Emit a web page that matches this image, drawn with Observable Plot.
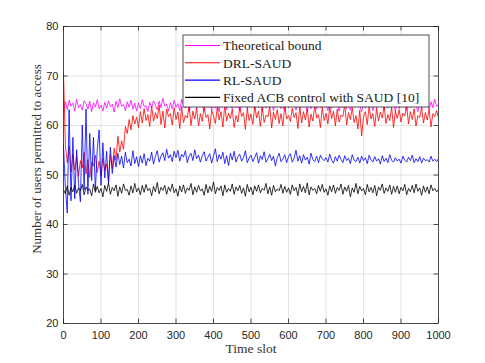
<!DOCTYPE html>
<html><head><meta charset="utf-8">
<script src="https://cdn.jsdelivr.net/npm/d3@7"></script>
<script src="https://cdn.jsdelivr.net/npm/@observablehq/plot@0.6"></script>
<style>
html,body{margin:0;padding:0;background:#fff;}
#chart{width:485px;height:363px;}
</style></head><body><div id="chart"></div>
<script>
const seriesNames = ["Theoretical bound", "DRL-SAUD", "RL-SAUD", "Fixed ACB control with SAUD [10]"];
const seriesColors = ["#ff00ff", "#ff0000", "#0000ff", "#000000"];
const xTicks = [0, 100, 200, 300, 400, 500, 600, 700, 800, 900, 1000];
const yTicks = [20, 30, 40, 50, 60, 70, 80];
const xLabel = "Time slot";
const yLabel = "Number of users permitted to access";

// sampled every 5 time slots (0..1000)
const timeSlots = d3.range(0, 1001, 5);

const theoretical = [
62.6,64.8,63.2,65.1,63.9,64.5,62.9,65.3,63.6,64.2,63.1,65.0,64.4,63.3,64.9,62.8,64.6,63.7,65.2,63.4,
64.1,62.9,64.7,63.5,65.0,63.8,64.3,62.7,64.9,63.6,65.4,63.9,64.2,63.0,64.8,63.7,65.1,63.3,64.5,62.9,
64.6,63.4,65.2,63.8,64.0,62.8,64.7,63.5,65.0,64.1,63.2,64.9,63.6,65.5,63.9,64.3,62.9,64.6,63.4,65.1,
63.7,64.4,63.0,65.3,64.2,63.5,64.8,62.8,64.5,63.9,65.0,63.3,64.6,63.8,64.1,62.9,65.2,63.6,64.4,63.1,
64.9,63.5,64.2,62.8,65.0,63.7,64.6,63.2,64.8,64.0,63.4,65.1,63.6,64.3,62.9,64.7,63.8,65.2,63.3,64.5,
63.9,64.7,63.1,65.0,63.6,64.2,62.8,64.9,63.5,65.3,63.8,64.4,63.0,64.6,63.7,65.1,63.4,64.0,62.9,64.8,
63.6,65.0,63.9,64.3,63.1,64.7,63.5,65.2,63.8,64.1,62.8,64.6,63.4,65.0,64.2,63.3,64.8,63.6,65.4,63.9,
64.2,63.0,64.7,63.5,65.1,63.8,64.4,62.9,64.9,63.6,65.0,63.4,64.5,63.1,64.8,63.7,65.2,63.9,64.1,62.8,
64.6,63.5,65.1,63.7,64.3,63.0,64.9,63.6,65.3,63.9,64.2,63.2,64.7,63.5,65.0,63.8,64.4,62.9,64.8,63.4,
65.1,63.7,64.3,63.0,64.9,63.6,65.2,63.9,64.1,62.8,64.7,63.5,65.0,63.8,64.5,63.2,64.8,63.6,65.3,63.9,
64.2];

const drlSaud = [
70.5,56.0,52.5,55.8,50.6,54.2,51.0,53.8,49.7,52.9,51.4,54.6,50.2,53.1,49.5,52.6,51.8,54.0,50.5,52.8,
49.8,53.5,50.9,52.2,48.8,54.1,51.3,55.4,53.0,57.8,54.6,56.9,55.2,59.8,58.4,61.2,59.1,62.0,60.3,61.7,
59.6,62.8,60.5,63.4,61.0,62.2,59.8,63.9,60.9,62.6,61.4,64.1,60.2,62.9,59.5,63.3,61.8,62.4,60.1,63.6,
61.2,62.7,59.4,63.8,60.6,62.1,61.5,64.0,60.0,62.9,61.3,63.5,59.9,62.4,60.8,63.9,61.6,62.2,59.3,63.1,
61.9,60.4,63.7,61.1,62.8,59.7,64.2,60.9,62.5,61.4,63.3,59.6,62.0,60.7,63.8,61.8,62.6,59.2,63.4,61.0,
62.3,60.2,64.0,61.5,62.9,59.8,63.6,60.6,62.1,61.7,63.9,59.5,62.7,61.2,63.2,60.4,62.4,59.9,64.1,61.3,
62.0,60.8,63.5,61.6,62.6,59.4,63.9,60.5,62.8,61.1,63.4,59.7,62.3,60.9,64.0,61.5,62.2,59.6,63.7,61.0,
62.5,60.3,63.8,61.4,62.9,59.9,63.3,60.7,62.1,61.8,64.2,60.1,62.6,61.2,63.6,60.6,62.0,59.3,63.1,57.9,
61.7,62.8,60.2,63.9,61.3,62.4,59.8,63.5,60.9,62.7,61.5,64.0,60.4,62.2,61.0,63.7,59.6,62.9,61.4,63.2,
60.7,62.5,61.9,64.1,60.3,62.8,61.2,63.4,59.9,62.0,61.6,63.8,60.5,62.6,61.1,63.3,59.7,62.4,61.8,63.0,
61.5];

const rlSaud = [
56.0,47.5,42.3,63.2,44.8,57.6,45.2,55.1,48.3,44.6,60.1,47.0,63.3,46.1,58.4,48.9,57.6,46.8,55.2,59.1,
47.9,56.5,49.4,54.8,48.2,55.6,50.3,53.9,51.6,54.4,52.1,53.8,51.4,54.6,52.5,53.2,51.8,54.9,52.3,53.7,
51.7,53.9,52.4,54.3,51.9,53.4,52.8,54.6,52.2,53.7,54.9,52.6,53.8,54.5,52.9,55.2,53.4,54.1,52.7,54.8,
53.5,55.0,52.8,54.2,53.6,54.9,52.5,53.8,54.4,52.9,55.1,53.3,54.0,52.6,53.9,54.7,52.8,53.6,54.3,52.4,
53.8,55.3,52.7,54.1,53.2,54.6,52.3,53.9,51.9,54.4,53.0,54.8,52.6,53.7,54.2,52.8,53.5,54.9,52.5,53.4,
54.0,52.7,53.6,54.5,52.4,53.9,53.1,54.7,52.6,53.3,54.2,52.9,53.8,51.8,53.5,54.4,52.7,53.2,54.1,52.5,
53.7,54.3,52.6,53.4,55.0,52.8,53.9,52.4,54.1,53.0,53.6,52.2,54.4,53.1,52.7,53.8,52.5,54.0,53.3,52.9,
53.5,52.6,54.2,53.0,52.4,53.7,52.8,54.0,53.2,52.5,53.9,52.9,53.4,52.3,54.1,53.0,52.7,53.6,52.4,53.8,
52.9,53.5,52.3,54.0,53.1,52.6,53.7,52.8,53.3,52.2,53.9,52.7,53.4,52.5,54.1,53.0,52.6,53.5,52.8,53.2,
52.4,53.8,53.0,52.6,53.6,52.9,54.0,52.5,53.3,52.7,53.7,52.4,53.4,52.9,53.1,52.6,53.8,52.8,53.2,52.7,
53.3];

const fixedAcb = [
47.0,46.2,47.8,45.9,47.5,46.6,48.0,46.3,47.4,46.8,48.1,46.0,47.6,46.9,47.2,45.8,48.2,46.5,47.7,46.4,
47.3,45.6,47.9,46.7,48.4,46.1,47.5,46.8,48.0,45.7,47.6,46.3,48.2,46.9,47.1,45.9,47.8,46.4,48.3,46.6,
47.4,46.0,47.9,46.5,48.1,46.8,47.3,45.8,47.7,46.6,48.5,46.2,47.5,46.9,47.9,46.1,47.6,46.7,48.2,46.4,
47.2,45.7,47.8,46.6,48.0,46.3,47.4,46.9,48.3,46.0,47.6,46.5,47.9,46.8,47.2,45.9,48.1,46.4,47.7,46.7,
48.6,46.2,47.5,46.9,47.8,45.8,48.0,46.5,47.3,46.7,48.2,46.1,47.6,46.8,47.9,46.3,47.4,45.7,48.1,46.6,
47.5,46.0,47.8,46.7,48.0,46.4,47.3,46.9,48.3,46.2,47.6,45.9,47.9,46.6,47.2,46.8,48.1,46.3,47.7,46.5,
47.4,46.1,48.0,46.8,47.5,45.8,48.2,46.6,47.7,46.4,48.4,46.0,47.6,46.9,47.3,46.2,47.9,46.7,48.1,46.5,
47.2,45.9,47.8,46.6,48.0,46.3,47.5,46.9,48.2,46.1,47.6,46.7,47.9,45.6,47.4,46.5,48.3,46.2,47.7,46.8,
47.3,46.0,48.1,46.6,47.5,46.4,47.9,45.8,47.6,46.9,48.2,46.3,47.4,46.7,48.0,46.1,47.7,46.5,47.8,46.2,
47.5,46.8,48.1,46.0,47.3,46.6,47.9,46.4,48.2,46.7,47.4,45.9,47.8,46.5,47.6,46.2,48.0,46.8,47.3,46.6,
47.1];

const allSeries = [theoretical, drlSaud, rlSaud, fixedAcb];
const data = [];
allSeries.forEach((vals, s) => vals.forEach((v, i) => data.push({t: timeSlots[i], v, s: seriesNames[s]})));

const serif = "'Liberation Serif', 'Times New Roman', serif";
const sans = "'Liberation Sans', Arial, Helvetica, sans-serif";
const axisColor = "#262626";

const plot = Plot.plot({
  width: 485, height: 363,
  marginLeft: 63, marginRight: 47, marginTop: 26, marginBottom: 40,
  style: {fontFamily: sans, fontSize: "11px", color: axisColor, background: "#fff", overflow: "visible"},
  x: {domain: [0, 1000], label: null},
  y: {domain: [20, 80], label: null},
  color: {domain: seriesNames, range: seriesColors},
  marks: [
    Plot.gridX(xTicks, {stroke: "#dcdcdc", strokeOpacity: 1, strokeWidth: 0.8}),
    Plot.gridY(yTicks, {stroke: "#dcdcdc", strokeOpacity: 1, strokeWidth: 0.8}),
    Plot.line(data, {x: "t", y: "v", z: "s", stroke: "s", strokeWidth: 0.8, clip: true}),
    Plot.frame({stroke: axisColor, strokeWidth: 0.8}),
    Plot.ruleX(xTicks, {x: d => d, y1: 20, y2: 20.9, stroke: axisColor, strokeWidth: 0.8}),
    Plot.ruleX(xTicks, {x: d => d, y1: 80, y2: 79.1, stroke: axisColor, strokeWidth: 0.8}),
    Plot.ruleY(yTicks, {y: d => d, x1: 0, x2: 12, stroke: axisColor, strokeWidth: 0.8}),
    Plot.ruleY(yTicks, {y: d => d, x1: 1000, x2: 988, stroke: axisColor, strokeWidth: 0.8}),
    Plot.axisX(xTicks, {tickSize: 0, tickPadding: 8, fontSize: 11, fill: axisColor, label: null, tickFormat: d3.format("d")}),
    Plot.axisY(yTicks, {tickSize: 0, tickPadding: 5, fontSize: 11, fill: axisColor, label: null, tickFormat: d3.format("d")}),
    Plot.text([xLabel], {frameAnchor: "bottom", dy: 29, fontFamily: serif, fontSize: 13.5, fill: "#333"})
  ]
});
document.getElementById("chart").appendChild(plot);

const svg = d3.select(plot);
// y-axis title
svg.append("text")
  .attr("transform", "translate(36,159) rotate(-90)")
  .attr("text-anchor", "middle").attr("dy", "0.35em")
  .attr("font-family", serif).attr("font-size", 13).attr("fill", "#333")
  .text(yLabel);

// legend
const lg = svg.append("g").attr("transform", "translate(183,35)");
lg.append("rect").attr("width", 246).attr("height", 72).attr("fill", "#fff").attr("stroke", axisColor).attr("stroke-width", 0.8);
seriesNames.forEach((name, i) => {
  const cy = 10.5 + i * 17.3;
  lg.append("line").attr("x1", 2).attr("x2", 37).attr("y1", cy).attr("y2", cy)
    .attr("stroke", seriesColors[i]).attr("stroke-width", 1.1);
  lg.append("text").attr("x", 40).attr("y", cy).attr("dy", "0.35em").attr("text-anchor", "start")
    .attr("font-family", serif).attr("font-size", 13.5).attr("fill", "#1a1a1a").text(name);
});
</script></body></html>
